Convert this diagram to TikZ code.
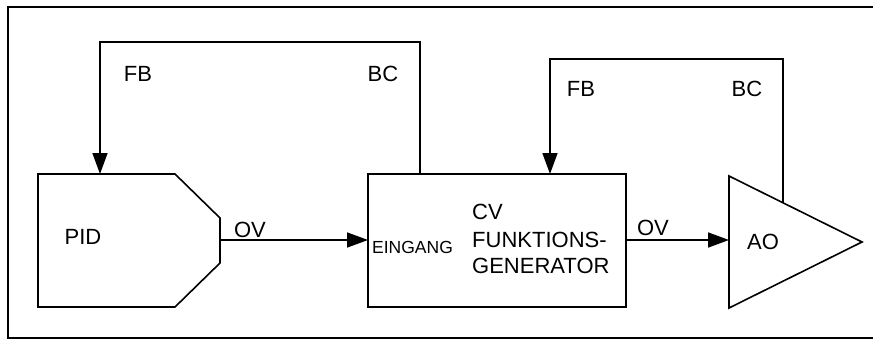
\documentclass[tikz,border=0pt]{standalone}
\usepackage{fontspec}
\setmainfont{Liberation Sans}
\usetikzlibrary{arrows.meta}
\begin{document}
\begin{tikzpicture}[x=1pt,y=-1pt,
  ln/.style={line width=1.6pt},
  sig/.style={ln,-{Triangle[length=21pt,width=15pt]}},
  lbl/.style={inner sep=0pt,font=\fontsize{22}{27}\selectfont},
  small/.style={inner sep=0pt,font=\fontsize{17.5}{20}\selectfont}]
\useasboundingbox (0,0) rectangle (873,340);
% frame
\draw[ln] (873,7) -- (8,7) -- (8,338) -- (873,338);
% PID block
\draw[ln] (38,174) -- (175,174) -- (220,218) -- (220,263) -- (175,307) -- (38,307) -- cycle;
\coordinate (pidout) at (220,240);
\coordinate (pidtop) at (100,174);
\node[lbl] (pid) at (83,237) {PID};
% CV box
\node[ln,draw,minimum width=258pt,minimum height=133pt,inner sep=0pt] (cv) at (497,240.5) {};
\coordinate (cvin) at (368,240);
\coordinate (cvout) at (626,240);
\coordinate (cvtop) at (550,174);
\coordinate (cvbc) at (420,174);
\node[small,anchor=west] (eing) at (372,247) {EINGANG};
\node[lbl,anchor=west] (cvt) at (472,212) {CV};
\node[lbl,anchor=west] (fk) at (472,240) {FUNKTIONS-};
\node[lbl,anchor=west] (gen) at (472,266) {GENERATOR};
% AO triangle
\draw[ln] (729,176) -- (862,242) -- (729,308) -- cycle;
\coordinate (aoin) at (729,240);
\coordinate (aobc) at (783,202.8);
\node[lbl] (ao) at (763,242) {AO};
% connectors
\draw[sig] (pidout) -- (cvin);
\draw[sig] (cvout) -- (aoin);
\coordinate (c1) at (420,42);
\coordinate (c2) at (100,42);
\draw[sig] (cvbc) -- (c1) -- (c2) -- (pidtop);
\coordinate (c3) at (783,59);
\coordinate (c4) at (550,59);
\draw[sig] (aobc) -- (c3) -- (c4) -- (cvtop);
% labels
\node[lbl] (fb1) at (138,74) {FB};
\node[lbl] (bc1) at (383,74) {BC};
\node[lbl] (fb2) at (581,89) {FB};
\node[lbl] (bc2) at (747,89) {BC};
\node[lbl] (ov1) at (250,230) {OV};
\node[lbl] (ov2) at (653,228) {OV};
\end{tikzpicture}
\end{document}
